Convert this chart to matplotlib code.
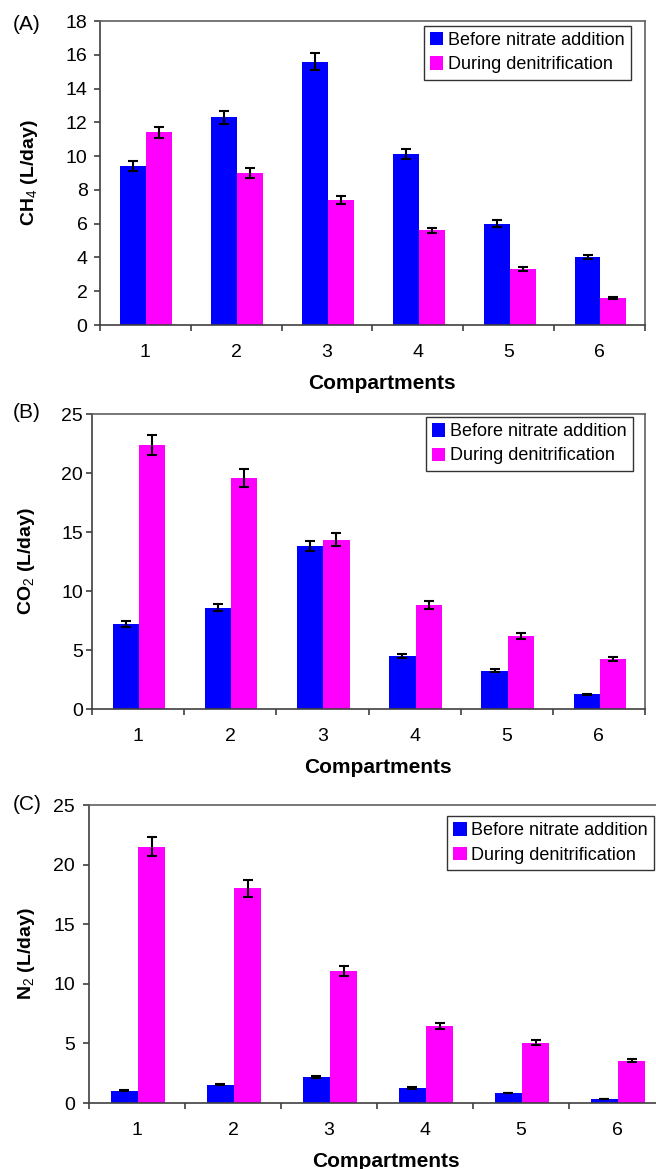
import numpy as np
import matplotlib
matplotlib.use('Agg')
import matplotlib.pyplot as plt

plt.rcParams['font.family'] = ['Liberation Sans', 'DejaVu Sans']
plt.rcParams['mathtext.fontset'] = 'custom'
plt.rcParams['mathtext.rm'] = 'Liberation Sans'
plt.rcParams['mathtext.bf'] = 'Liberation Sans:bold'

compartments = ['1', '2', '3', '4', '5', '6']
series_names = ['Before nitrate addition', 'During denitrification']

# (A) CH4
ch4_before = [9.4, 12.3, 15.6, 10.1, 6.0, 4.0]
ch4_before_err = [0.3, 0.4, 0.5, 0.3, 0.2, 0.12]
ch4_during = [11.4, 9.0, 7.4, 5.6, 3.3, 1.6]
ch4_during_err = [0.35, 0.3, 0.25, 0.17, 0.12, 0.07]

# (B) CO2
co2_before = [7.2, 8.6, 13.8, 4.45, 3.25, 1.25]
co2_before_err = [0.25, 0.3, 0.45, 0.17, 0.1, 0.05]
co2_during = [22.4, 19.6, 14.35, 8.8, 6.15, 4.25]
co2_during_err = [0.85, 0.75, 0.55, 0.35, 0.25, 0.15]

# (C) N2
n2_before = [1.04, 1.54, 2.16, 1.26, 0.84, 0.34]
n2_before_err = [0.05, 0.05, 0.1, 0.05, 0.03, 0.02]
n2_during = [21.5, 18.0, 11.05, 6.45, 5.05, 3.56]
n2_during_err = [0.8, 0.7, 0.42, 0.25, 0.2, 0.14]

W, H = 656, 1169
fig = plt.figure(figsize=(W / 100, H / 100), dpi=100)


def px_axes(left, right, top, bottom):
    return fig.add_axes([left / W, 1 - bottom / H, (right - left) / W, (bottom - top) / H])


def panel(ax, before, before_err, during, during_err, ymax, ystep, ylabel,
          ytickpad, ylab_x, leg_anchor, xlab_x, xlab_y):
    x = np.arange(1, len(compartments) + 1)
    w = 0.285
    ax.bar(x - w / 2 + 0.01, before, w, color='#0000FF', label=series_names[0], zorder=2)
    ax.bar(x + w / 2 + 0.01, during, w, color='#FF00FF', label=series_names[1], zorder=2)
    ax.errorbar(x - w / 2 + 0.01, before, yerr=before_err, fmt='none', ecolor='black',
                elinewidth=1.5, capsize=3.5, capthick=1.5, zorder=3)
    ax.errorbar(x + w / 2 + 0.01, during, yerr=during_err, fmt='none', ecolor='black',
                elinewidth=1.5, capsize=3.5, capthick=1.5, zorder=3)
    ax.set_xlim(0.5, len(compartments) + 0.5)
    ax.set_ylim(0, ymax)
    ax.set_yticks(np.arange(0, ymax + 0.01, ystep))
    ax.set_xticks(x)
    ax.set_xticklabels(compartments)
    ax.set_xticks(np.arange(0.5, len(compartments) + 1), minor=True)
    ax.tick_params(axis='x', which='major', length=0, pad=14, labelsize=14)
    ax.tick_params(axis='x', which='minor', length=4, width=1.2, color='#404040', direction='out')
    ax.tick_params(axis='y', length=4, width=1.2, color='#404040', pad=ytickpad, labelsize=14)
    for s in ax.spines.values():
        s.set_color('#606060')
        s.set_linewidth(1.2)
    ax.spines['left'].set_color('#404040')
    ax.spines['bottom'].set_color('#404040')
    ax.set_ylabel(ylabel, fontsize=14, fontweight='bold')
    ax.yaxis.set_label_coords(ylab_x, 0.5)
    ax.set_xlabel('Compartments', fontsize=15, fontweight='bold')
    ax.xaxis.set_label_coords(xlab_x, xlab_y)
    leg = ax.legend(loc='upper right', bbox_to_anchor=leg_anchor, borderaxespad=0,
                    fontsize=13, frameon=True, fancybox=False, edgecolor='black',
                    handlelength=0.75, handleheight=0.75, handletextpad=0.25,
                    labelspacing=0.4, borderpad=0.35)
    leg.get_frame().set_linewidth(1.0)


axA = px_axes(100, 645, 21, 325)
panel(axA, ch4_before, ch4_before_err, ch4_during, ch4_during_err, 18, 2,
      'CH$_4$ (L/day)', 5, -0.11, (0.974, 0.984), 0.518, -0.161)

axB = px_axes(92, 645, 414, 709)
panel(axB, co2_before, co2_before_err, co2_during, co2_during_err, 25, 5,
      'CO$_2$ (L/day)', 2.5, -0.1, (0.978, 0.99), 0.517, -0.166)

axC = px_axes(89, 665, 805, 1103)
panel(axC, n2_before, n2_before_err, n2_during, n2_during_err, 25, 5,
      'N$_2$ (L/day)', 6, -0.09, (0.981, 0.963), 0.516, -0.164)

fig.text(13 / W, 1 - 25 / H, '(A)', fontsize=15, ha='left', va='center')
fig.text(13 / W, 1 - 413 / H, '(B)', fontsize=15, ha='left', va='center')
fig.text(13 / W, 1 - 805 / H, '(C)', fontsize=15, ha='left', va='center')

fig.savefig('out.png', dpi=100)
